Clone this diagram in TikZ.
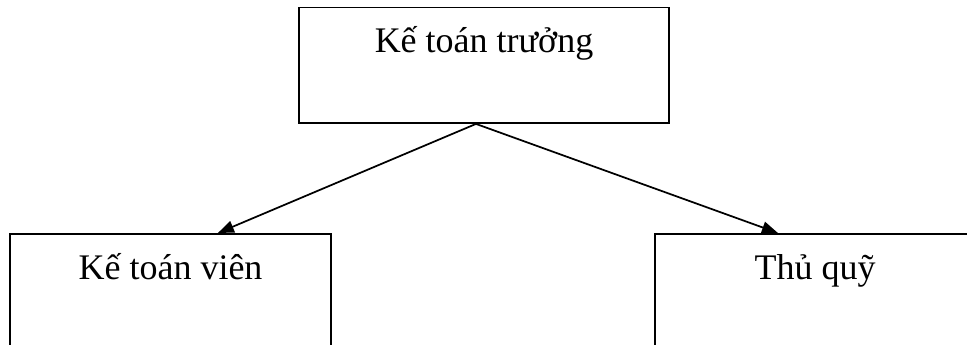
\documentclass[tikz,border=0pt]{standalone}
\usepackage{fontspec}
\setmainfont{Liberation Serif}
\usetikzlibrary{arrows.meta,positioning}
\begin{document}
\begin{tikzpicture}[x=0.75pt, y=0.75pt, font=\fontsize{27}{31}\selectfont,
  khung/.style={draw, line width=1.4pt, rectangle, inner sep=0pt},
  mui/.style={-{Triangle[length=12pt, width=9pt]}, line width=1.3pt}]
  \useasboundingbox (0,0) rectangle (967,345);
  % Kế toán trưởng
  \node[khung, minimum width=277.5pt, minimum height=86.6pt] (ktt) at (484,279.75) {};
  \node[anchor=base] (ktt-chu) at (484,292) {Kế toán trưởng};
  % hai bộ phận bên dưới
  \node[khung, minimum width=240.75pt, minimum height=121.5pt, anchor=north west] (ktv) at (9,112) {};
  \node[anchor=base] (ktv-chu) at (170.5,65) {Kế toán viên};
  \node[khung, minimum width=241.5pt, minimum height=121.5pt, anchor=north west] (tq) at (654,112) {};
  \node[anchor=base] (tq-chu) at (815,65) {Thủ quỹ};
  % mũi tên
  \coordinate (goc) at ([xshift=-6pt]ktt.south);
  \draw[mui] (goc) -- ([xshift=35.6pt]ktv.north);
  \draw[mui] (goc) -- ([xshift=-28.5pt]tq.north);
\end{tikzpicture}
\end{document}
